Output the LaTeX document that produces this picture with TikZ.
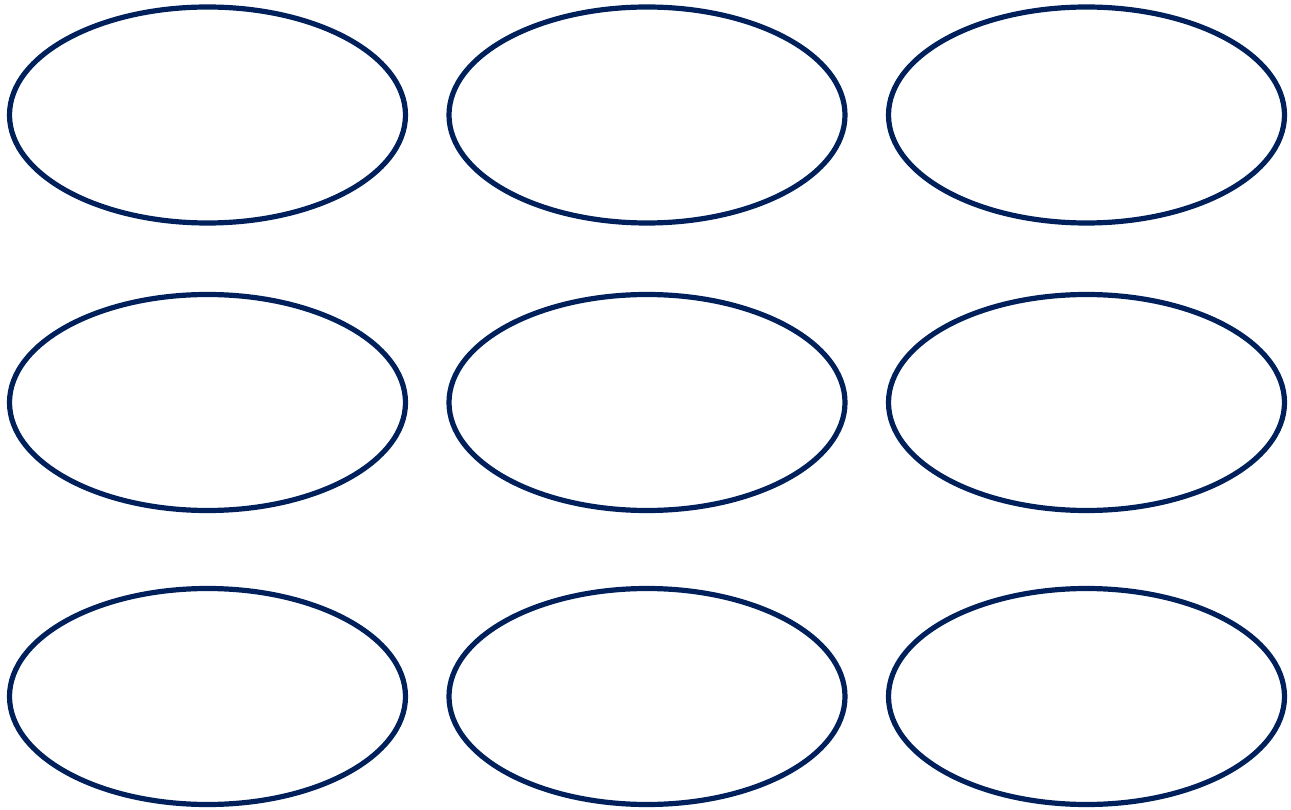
\documentclass[tikz,border=0pt]{standalone}
\usetikzlibrary{shapes.geometric}
\definecolor{navy}{HTML}{00205B}
\begin{document}
\begin{tikzpicture}[x=1pt,y=-1pt,
  oval/.style={ellipse,draw=navy,line width=5.2pt,minimum width=396pt,minimum height=216pt,inner sep=0pt}]
\useasboundingbox (0,0) rectangle (1291,810);
\node[oval] (e11) at (207.5,115) {};
\node[oval] (e12) at (647,115) {};
\node[oval] (e13) at (1086.5,115) {};
\node[oval] (e21) at (207.5,402.5) {};
\node[oval] (e22) at (647,402.5) {};
\node[oval] (e23) at (1086.5,402.5) {};
\node[oval] (e31) at (207.5,696.5) {};
\node[oval] (e32) at (647,696.5) {};
\node[oval] (e33) at (1086.5,696.5) {};
\end{tikzpicture}
\end{document}
